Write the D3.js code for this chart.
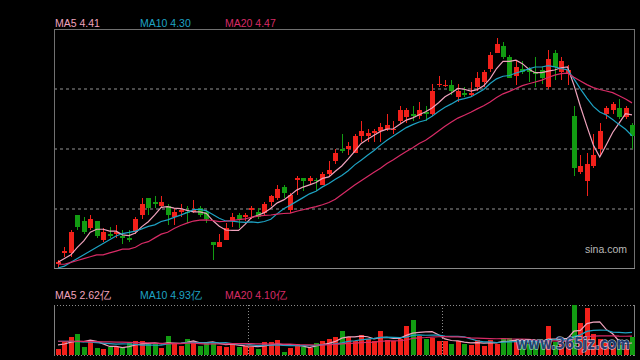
<!DOCTYPE html>
<html><head><meta charset="utf-8">
<script src="https://cdn.jsdelivr.net/npm/d3@7"></script>
<style>html,body{margin:0;padding:0;background:#000;}svg{display:block;}</style>
</head><body><svg id="c" width="640" height="360"></svg>
<script>
// ---- data ----
const opens  = [3.61,3.67,3.67,3.87,3.84,3.80,3.84,3.74,3.77,3.77, 3.76,3.75,3.78,3.87,3.96,3.94,3.92,3.92,3.86,3.89,
                3.89,3.89,3.91,3.89,3.73,3.70,3.74,3.84,3.87,3.86, 3.90,3.89,3.88,3.94,3.96,4.02,3.90,4.06,4.07,4.05,
                4.06,4.03,4.09,4.16,4.22,4.22,4.20,4.29,4.29,4.31, 4.32,4.33,4.33,4.37,4.39,4.41,4.40,4.42,4.41,4.56,
                4.56,4.56,4.50,4.52,4.51,4.55,4.58,4.65,4.73,4.77, 4.71,4.61,4.65,4.65,4.63,4.64,4.55,4.73,4.63,4.62,
                4.40,4.10,4.05,4.13,4.22,4.41,4.43,4.44,4.39,4.35];
const highs  = [3.63,3.70,3.79,3.87,3.86,3.87,3.84,3.80,3.81,3.82, 3.79,3.79,3.86,3.96,3.96,3.97,3.97,3.93,3.91,3.93,
                3.92,3.95,3.92,3.90,3.73,3.77,3.83,3.88,3.88,3.88, 3.92,3.91,3.94,3.98,4.03,4.03,3.99,4.08,4.07,4.08,
                4.07,4.10,4.16,4.22,4.30,4.26,4.30,4.37,4.33,4.33, 4.36,4.41,4.37,4.45,4.44,4.45,4.47,4.45,4.57,4.61,
                4.59,4.59,4.57,4.55,4.58,4.63,4.64,4.74,4.81,4.79, 4.72,4.69,4.69,4.66,4.71,4.66,4.75,4.75,4.71,4.67,
                4.45,4.19,4.20,4.30,4.36,4.45,4.47,4.49,4.45,4.36];
const lows   = [3.59,3.65,3.65,3.79,3.77,3.79,3.75,3.73,3.75,3.75, 3.72,3.73,3.77,3.85,3.87,3.91,3.91,3.82,3.82,3.86,
                3.83,3.88,3.86,3.83,3.63,3.70,3.74,3.81,3.80,3.84, 3.85,3.85,3.87,3.92,3.95,3.96,3.88,3.98,4.00,4.03,
                4.00,4.03,4.08,4.14,4.20,4.19,4.20,4.26,4.26,4.26, 4.26,4.32,4.30,4.36,4.36,4.37,4.38,4.37,4.40,4.55,
                4.55,4.51,4.47,4.50,4.50,4.53,4.55,4.63,4.73,4.70, 4.60,4.56,4.62,4.58,4.55,4.57,4.54,4.59,4.59,4.56,
                4.08,4.09,3.97,4.12,4.19,4.38,4.41,4.38,4.38,4.22];
const closes = [3.62,3.68,3.78,3.81,3.78,3.85,3.76,3.78,3.76,3.78, 3.75,3.74,3.85,3.93,3.91,3.93,3.94,3.87,3.89,3.90,
                3.88,3.90,3.87,3.85,3.71,3.73,3.80,3.86,3.85,3.87, 3.91,3.86,3.93,3.97,4.01,3.99,3.98,4.07,4.05,4.07,
                4.05,4.09,4.11,4.20,4.21,4.24,4.29,4.32,4.31,4.32, 4.34,4.35,4.33,4.43,4.43,4.40,4.43,4.41,4.53,4.57,
                4.56,4.53,4.53,4.51,4.52,4.60,4.63,4.72,4.78,4.71, 4.60,4.66,4.63,4.63,4.62,4.60,4.70,4.66,4.69,4.64,
                4.12,4.13,4.14,4.19,4.32,4.44,4.46,4.39,4.44,4.29];
// volume in 亿
const volumes = [1.3,2.9,4.0,4.6,1.8,2.9,1.5,1.3,1.8,1.8, 1.6,2.7,3.0,3.0,2.3,2.3,1.6,4.1,2.7,2.0,
                 3.5,3.1,2.0,2.8,2.8,2.0,1.8,2.3,1.8,2.0, 1.8,1.3,2.9,2.9,3.3,0.7,1.6,2.3,1.8,1.6,
                 2.7,3.0,3.5,4.0,5.2,4.0,3.0,4.3,3.4,3.0, 5.2,3.3,3.1,3.5,6.3,7.6,4.2,3.5,3.8,3.0,
                 3.0,2.5,3.1,2.4,2.2,3.3,2.0,3.3,2.5,3.8, 3.6,3.0,2.8,2.5,2.9,2.7,6.3,2.9,3.0,3.0,
                 10.9,7.0,10.3,4.6,3.4,2.6,2.2,2.2,2.1,4.0];
// moving-average values before a full window exists
const ma5Lead  = [3.62,3.64,3.66,3.70];
const ma10Lead = [3.59,3.60,3.62,3.64,3.66,3.68,3.70,3.72,3.74];
const ma20Lead = [3.61,3.61,3.62,3.63,3.64,3.65,3.66,3.66,3.67,3.68,3.69,3.69,3.70,3.72,3.73,3.75,3.77,3.78,3.80];
const vma5Lead  = [2.2,2.4,2.8,3.0];
const vma10Lead = [3.0,3.0,2.95,2.9,2.85,2.8,2.7,2.6,2.5];
const vma20Lead = [3.0,3.0,3.0,2.95,2.95,2.9,2.9,2.85,2.85,2.8,2.8,2.75,2.7,2.7,2.65,2.6,2.55,2.5,2.5];
const priceLegend  = ["MA5 4.41","MA10 4.30","MA20 4.47"];
const volumeLegend = ["MA5 2.62亿","MA10 4.93亿","MA20 4.10亿"];
const periodStarts = [30, 60];
const priceRange = [3.59, 4.86];
const sourceLabel = "sina.com";
const watermark = "www.365jz.com";

// ---- styles ----
const C_UP = "#f2201a", C_DN = "#129c12";
const C_MA = ["#f0a3bd", "#1ea3c4", "#d82b66"];
const svg = d3.select("#c");
const L = 54, R = 634, PT = 29, PB = 268, VT = 305, VB = 355;
const n = closes.length;

function movingAvg(vals, k, lead) {
  return vals.map((v, i) => i < k - 1 ? lead[i] : d3.mean(vals.slice(i - k + 1, i + 1)));
}

const x = d3.scaleLinear().domain([0, n - 1]).range([58, 632]);
const y = d3.scaleLinear().domain(priceRange).range([PB, PT]);
const yv = d3.scaleLinear().domain([0, d3.max(volumes)]).range([VB, VT]);

svg.append("rect").attr("width", 640).attr("height", 360).attr("fill", "#000");

// price grid via axis
const gridVals = d3.range(1, 4).map(k => priceRange[0] + k * (priceRange[1] - priceRange[0]) / 4);
const g = svg.append("g").attr("transform", `translate(${L},0)`)
  .call(d3.axisRight(y).tickValues(gridVals).tickSize(R - L).tickFormat(""));
g.select(".domain").remove();
g.selectAll(".tick line").attr("stroke", "#4a4a4a").attr("stroke-width", 2).attr("stroke-dasharray", "3,3")
  .attr("shape-rendering", "crispEdges");

// frame
svg.append("path").attr("d", `M${L+0.5},${PB+0.5}V${PT+0.5}H${R+0.5}V${PB+0.5}`)
  .attr("fill", "none").attr("stroke", "#707070").attr("shape-rendering", "crispEdges");
svg.append("line").attr("x1", L).attr("x2", R + 1).attr("y1", PB + 0.5).attr("y2", PB + 0.5)
  .attr("stroke", "#8a8a8a").attr("shape-rendering", "crispEdges");

// candles
const idx = d3.range(n);
const col = i => closes[i] >= opens[i] ? C_UP : C_DN;
const cg = svg.append("g").attr("shape-rendering", "crispEdges");
cg.selectAll("line.w").data(idx).join("line")
  .attr("x1", i => Math.round(x(i)) + 0.5).attr("x2", i => Math.round(x(i)) + 0.5)
  .attr("y1", i => y(highs[i])).attr("y2", i => y(lows[i]))
  .attr("stroke", col);
cg.selectAll("rect.b").data(idx).join("rect")
  .attr("x", i => Math.round(x(i)) - 2).attr("width", 5)
  .attr("y", i => Math.min(y(opens[i]), y(closes[i])))
  .attr("height", i => Math.max(1, Math.abs(y(opens[i]) - y(closes[i]))))
  .attr("fill", col);

// price MAs
const lineP = d3.line().x((d, i) => x(i)).y(d => y(d));
[[5, ma5Lead], [10, ma10Lead], [20, ma20Lead]].forEach(([k, lead], j) => {
  svg.append("path").attr("d", lineP(movingAvg(closes, k, lead)))
    .attr("fill", "none").attr("stroke", C_MA[j]).attr("stroke-width", 1.2);
});

// legends
const legX = [55, 140, 225];
const FONT = "Liberation Sans, Arial, sans-serif";
priceLegend.forEach((t, j) => svg.append("text").attr("x", legX[j]).attr("y", 27).text(t)
  .attr("fill", C_MA[j]).attr("font-family", FONT).attr("font-size", 10.5));
volumeLegend.forEach((t, j) => svg.append("text").attr("x", legX[j]).attr("y", 299).text(t)
  .attr("fill", C_MA[j]).attr("font-family", FONT).attr("font-size", 10.5));

svg.append("text").attr("x", 585).attr("y", 253).text(sourceLabel)
  .attr("fill", "#b8b8b8").attr("font-family", FONT).attr("font-size", 10.5);

// volume panel frame
const dotted = (x1, y1, x2, y2) => svg.append("line").attr("x1", x1).attr("y1", y1).attr("x2", x2).attr("y2", y2)
  .attr("stroke", "#8c8c8c").attr("stroke-dasharray", "1,2").attr("shape-rendering", "crispEdges");
dotted(L, VT + 0.5, R, VT + 0.5);
dotted(L, VB + 0.5, R, VB + 0.5);
periodStarts.forEach(p => {
  const px = Math.round((x(p - 1) + x(p)) / 2) + 0.5;
  dotted(px, VT, px, VB);
});
svg.append("line").attr("x1", L + 0.5).attr("x2", L + 0.5).attr("y1", VT).attr("y2", VB + 1)
  .attr("stroke", "#808080").attr("shape-rendering", "crispEdges");
svg.append("line").attr("x1", R + 0.5).attr("x2", R + 0.5).attr("y1", VT).attr("y2", VB + 1)
  .attr("stroke", "#808080").attr("shape-rendering", "crispEdges");

// volume bars
svg.append("g").attr("shape-rendering", "crispEdges").selectAll("rect").data(idx).join("rect")
  .attr("x", i => Math.round(x(i)) - 2).attr("width", 5)
  .attr("y", i => yv(volumes[i])).attr("height", i => VB - yv(volumes[i]))
  .attr("fill", col);

// volume MAs
const lineV = d3.line().x((d, i) => x(i)).y(d => yv(d));
[[5, vma5Lead], [10, vma10Lead], [20, vma20Lead]].forEach(([k, lead], j) => {
  svg.append("path").attr("d", lineV(movingAvg(volumes, k, lead)))
    .attr("fill", "none").attr("stroke", C_MA[j]).attr("stroke-width", 1.2);
});

// watermark
svg.append("text").attr("x", 516).attr("y", 349).text(watermark)
  .attr("font-family", "DejaVu Sans, sans-serif").attr("font-weight", "bold").attr("font-size", 15)
  .attr("textLength", 114).attr("lengthAdjust", "spacingAndGlyphs")
  .attr("fill", "#1f3f78").attr("stroke", "#d8e6f4").attr("stroke-width", 1.1)
  .attr("paint-order", "stroke").attr("opacity", 0.9);
</script></body></html>
